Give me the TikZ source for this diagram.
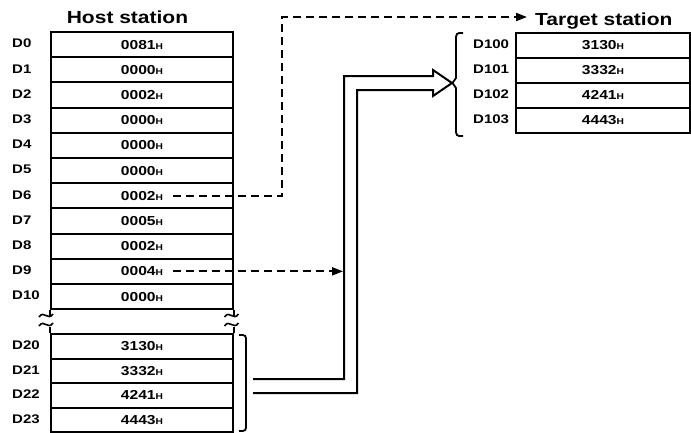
\documentclass[tikz,border=0pt]{standalone}
\usepackage{fontspec}
\setmainfont{Liberation Sans}
\newfontfamily\titlefont[FakeStretch=1.2]{Liberation Sans}
\newfontfamily\cellfont[FakeStretch=1.2]{Liberation Sans}
\newfontfamily\regfont[FakeStretch=1.2]{Liberation Sans}
\usetikzlibrary{arrows.meta}
\newcommand\hsuf{{\fontsize{8.5pt}{8.5pt}\selectfont H}}
\tikzset{
  cellbox/.style={draw, line width=1.9pt, inner sep=0pt, anchor=north west,
    font={\cellfont\bfseries\fontsize{13pt}{13pt}\selectfont}},
  hostcell/.style={cellbox, minimum width=182pt, minimum height=25.2pt},
  lowcell/.style={cellbox, minimum width=182pt, minimum height=24.6pt},
  tgtcell/.style={cellbox, minimum width=174pt, minimum height=25pt},
  reglabel/.style={anchor=west, inner sep=0pt, font={\regfont\bfseries\fontsize{12.5pt}{12.5pt}\selectfont}},
  titletext/.style={inner sep=0pt, font={\titlefont\bfseries\fontsize{17.5pt}{17.5pt}\selectfont}},
  thinline/.style={line width=1.8pt},
  dashline/.style={line width=2pt, dash pattern=on 8pt off 5pt, -{Triangle[length=11pt,width=8pt]}},
  hollow/.style={line width=2pt, line join=miter},
}
\begin{document}
\begin{tikzpicture}[x=1pt,y=-1pt]
\useasboundingbox (0,0) rectangle (691,432);
% titles
\node[titletext, anchor=base] (hs) at (127.5,23) {Host station};
\node[titletext, anchor=base west, inner xsep=8pt] (ts) at (527,25) {Target station};
% host cells D0..D10
\foreach \i/\v in {0/0081,1/0000,2/0002,3/0000,4/0000,5/0000,6/0002,7/0005,8/0002,9/0004,10/0000}{
  \node[hostcell] (h\i) at (50,{31+25.2*\i}) {\v\hsuf};
  \node[reglabel] (lh\i) at (12,{43.6+25.2*\i}) {D\i};
}
% host cells D20..D23
\foreach \j/\n/\v in {0/20/3130,1/21/3332,2/22/4241,3/23/4443}{
  \node[lowcell] (l\j) at (50,{333+24.6*\j}) {\v\hsuf};
  \node[reglabel] (ll\j) at (12,{345.3+24.6*\j}) {D\n};
}
% gap lines and break marks
\draw[thinline] (h10.south west) -- ++(0,5.5);
\draw[thinline] (l0.north west) -- ++(0,-6.5);
\draw[thinline] (h10.south east) -- ++(0,5.5);
\draw[thinline] (l0.north east) -- ++(0,-6.5);
\foreach \cx in {46,231.5}{
  \foreach \cy in {315.5,324.5}{
    \draw[line width=1.6pt] (\cx-7,\cy+1.5) .. controls (\cx-2,\cy-6) and (\cx+2,\cy+6) .. (\cx+7,\cy-1.5);
  }
}
% target cells
\foreach \j/\n/\v in {0/100/3130,1/101/3332,2/102/4241,3/103/4443}{
  \node[tgtcell] (t\j) at (515,{32+25*\j}) {\v\hsuf};
  \node[reglabel] (lt\j) at (473,{44.5+25*\j}) {D\n};
}
% host brace
\draw[thinline] (239,335) .. controls (246,335) .. (246,342) -- (246,424) .. controls (246,431) .. (239,431);
% target brace
\draw[thinline] (463,33) .. controls (456,33) .. (456,41) -- (456,78) -- (452.5,83) -- (456,88) -- (456,128) .. controls (456,136) .. (463,136);
% hollow arrow
\coordinate (hb1) at (253,379);
\coordinate (hb2) at (253,393);
\coordinate (av) at (344,379);
\coordinate (tip) at (452,83);
\draw[hollow] (hb1) -- (av) -- (344,76) -- (433,76) -- (433,70) -- (tip) -- (433,96) -- (433,90) -- (357,90) -- (357,393) -- (hb2);
% dashed connectors
\coordinate (c1) at (282,17);
\draw[dashline] ([xshift=31pt]h6.center) -| (c1) -- (c1 -| ts.west);
\draw[dashline, shorten >=1pt] ([xshift=31pt]h9.center) -- (h9.center -| av);
\end{tikzpicture}
\end{document}
